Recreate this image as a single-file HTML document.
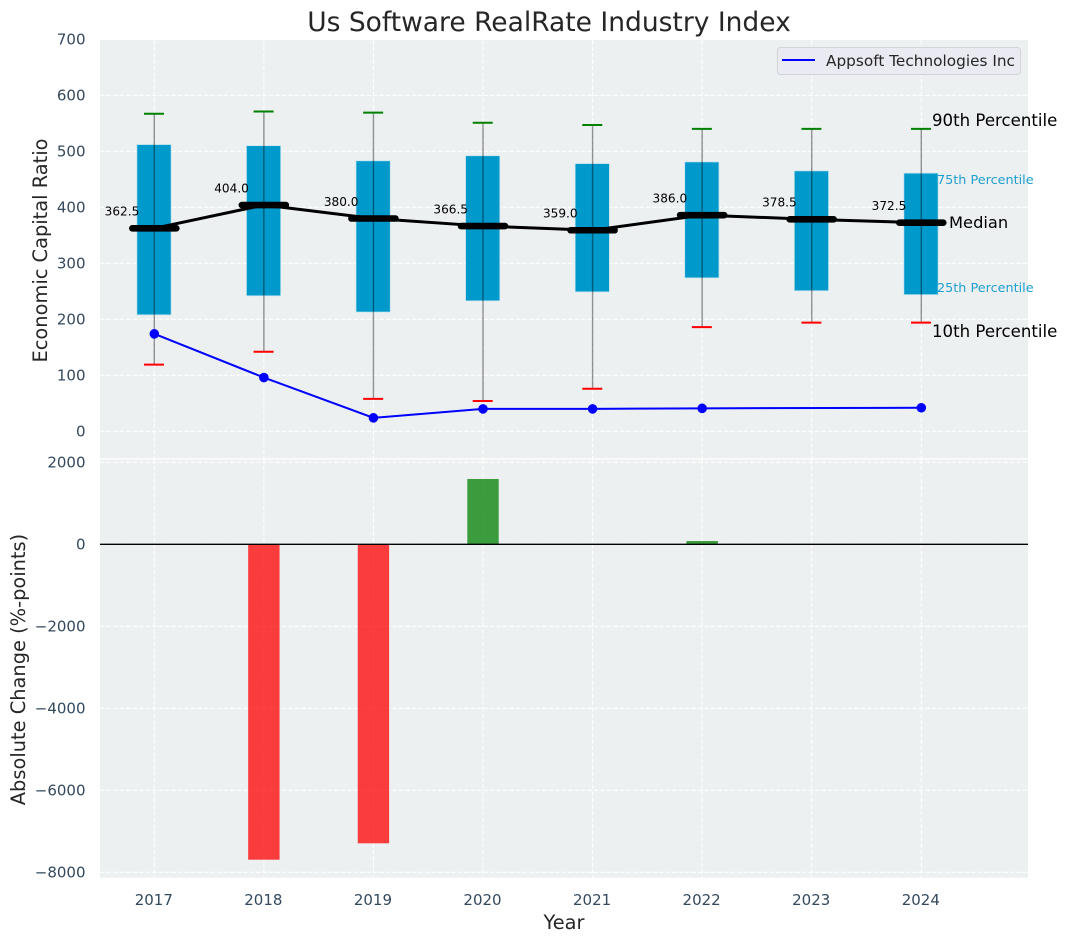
<!DOCTYPE html>
<html>
<head>
<meta charset="utf-8">
<title>Us Software RealRate Industry Index</title>
<style>
html,body{margin:0;padding:0;background:#fff;}
svg{display:block;font-family:"DejaVu Sans","Liberation Sans",sans-serif;}
</style>
</head>
<body>
<svg id="chart" width="1067" height="942" viewBox="0 0 1067 942" xmlns="http://www.w3.org/2000/svg">
  <rect x="100" y="40" width="928" height="418.3" fill="#ecf0f1"/>
  <rect x="100" y="459.7" width="928" height="418" fill="#ecf0f1"/>
  <g id="grid"></g>
  <g id="bars"></g>
  <g id="boxes"></g>
  <g id="series"></g>
  <g id="medians"></g>
  <g id="ticks" font-size="15" fill="#34495e"></g>
  <text x="549" y="31" text-anchor="middle" font-size="26.5" fill="#262626">Us Software RealRate Industry Index</text>
  <text transform="translate(47,250.5) rotate(-90)" text-anchor="middle" font-size="19.4" fill="#262626">Economic Capital Ratio</text>
  <text transform="translate(25,669.5) rotate(-90)" text-anchor="middle" font-size="19.4" fill="#262626">Absolute Change (%-points)</text>
  <text x="564" y="929" text-anchor="middle" font-size="19.4" fill="#262626">Year</text>
  <g>
    <text x="932" y="126" font-size="16.6" fill="#000">90th Percentile</text>
    <text x="937" y="184" font-size="12.8" fill="#1f9fd0">75th Percentile</text>
    <text x="949" y="228" font-size="16.3" fill="#000">Median</text>
    <text x="937" y="292" font-size="12.8" fill="#1f9fd0">25th Percentile</text>
    <text x="932" y="337" font-size="16.6" fill="#000">10th Percentile</text>
  </g>
  <g>
    <rect x="777.5" y="47.5" width="243" height="27" rx="3" fill="#eaeaf2" stroke="#d2d3d8" stroke-width="1"/>
    <line x1="782" y1="60" x2="815" y2="60" stroke="#0000ff" stroke-width="2"/>
    <text x="826" y="66" font-size="15.3" fill="#262626">Appsoft Technologies Inc</text>
  </g>
</svg>
<script>
const years = [2017, 2018, 2019, 2020, 2021, 2022, 2023, 2024];
const p90 = [567, 571, 569, 551, 547, 540, 540, 540];
const p75 = [512, 510, 483, 492, 478, 481, 465, 461];
const medianValues = [362.5, 404.0, 380.0, 366.5, 359.0, 386.0, 378.5, 372.5];
const p25 = [208, 242, 213, 233, 249, 274, 251, 244];
const p10 = [119, 142, 58, 54, 76, 186, 194, 194];
const companyYears = [2017, 2018, 2019, 2020, 2021, 2022, 2024];
const companyValues = [174, 96, 24, 40, 40, 41, 42];
const changeValues = [0, -7693, -7293, 1593, 0, 80, 0, 0];
const upperTicks = [0, 100, 200, 300, 400, 500, 600, 700];
const lowerTicks = [2000, 0, -2000, -4000, -6000, -8000];

const NS = 'http://www.w3.org/2000/svg';
const xScale = function (year) { return 154.3 + (year - 2017) * 109.57; };
const yUpper = function (v) { return 431.3 - v * 0.56; };
const yLower = function (v) { return 544.3 - v * 0.041; };

function make(parent, tag, attrs, text) {
  const el = document.createElementNS(NS, tag);
  for (const k in attrs) el.setAttribute(k, attrs[k]);
  if (text !== undefined) el.textContent = text;
  parent.appendChild(el);
  return el;
}
const gGrid = document.getElementById('grid');
const gBars = document.getElementById('bars');
const gBoxes = document.getElementById('boxes');
const gSeries = document.getElementById('series');
const gMedians = document.getElementById('medians');
const gTicks = document.getElementById('ticks');
const gridStyle = { stroke: '#ffffff', 'stroke-width': 1.1, 'stroke-dasharray': '4.5 2', 'stroke-opacity': 0.95 };

years.forEach(function (yr) {
  const x = xScale(yr);
  const a = make(gGrid, 'line', Object.assign({ x1: x, x2: x, y1: 40, y2: 458.3 }, gridStyle));
  
  
  const b = make(gGrid, 'line', Object.assign({ x1: x, x2: x, y1: 459.7, y2: 877.7 }, gridStyle));
  
  
  const t = make(gTicks, 'text', { x: x - 0.5, y: 905, 'text-anchor': 'middle' }, String(yr));
  
  
});

upperTicks.forEach(function (v) {
  const y = yUpper(v);
  if (v < 700) {
    const l = make(gGrid, 'line', Object.assign({ x1: 100, x2: 1028, y1: y, y2: y }, gridStyle));
    
    
  }
  const t = make(gTicks, 'text', { x: 85.5, y: y + 5.3, 'text-anchor': 'end' }, String(v));
  
  
});

lowerTicks.forEach(function (v) {
  const y = yLower(v);
  const l = make(gGrid, 'line', Object.assign({ x1: 100, x2: 1028, y1: y, y2: y }, gridStyle));
  
  
  const t = make(gTicks, 'text', { x: 85.5, y: y + 5.3, 'text-anchor': 'end' }, String(v).replace('-', '\u2212'));
  
  
});

changeValues.forEach(function (v, i) {
  if (v === 0) return;
  const cx = xScale(years[i]);
  const top = yLower(Math.max(v, 0));
  const h = Math.abs(yLower(v) - yLower(0));
  const r = make(gBars, 'rect', {
    x: cx - 15.7, y: top, width: 31.4, height: h,
    fill: v < 0 ? '#ff0000' : '#008000', 'fill-opacity': 0.75
  });
  
  
});

const zero = make(gBars, 'line', { x1: 100, x2: 1028, y1: yLower(0), y2: yLower(0), stroke: '#000', 'stroke-width': 1.4 });



years.forEach(function (yr, i) {
  const x = xScale(yr);
  const box = make(gBoxes, 'rect', {
    x: x - 17.4, y: yUpper(p75[i]), width: 34.2, height: yUpper(p25[i]) - yUpper(p75[i]),
    fill: '#0099cc', stroke: '#bfe3ee', 'stroke-width': 0.7
  });
  
  
  const w = make(gBoxes, 'line', {
    x1: x, x2: x, y1: yUpper(p90[i]), y2: yUpper(p10[i]),
    stroke: '#000', 'stroke-opacity': 0.42, 'stroke-width': 1.4
  });
  
  
  const hi = make(gBoxes, 'line', {
    x1: x - 10.3, x2: x + 9.7, y1: yUpper(p90[i]), y2: yUpper(p90[i]), stroke: '#008000', 'stroke-width': 2
  });
  
  
  const lo = make(gBoxes, 'line', {
    x1: x - 10.3, x2: x + 9.7, y1: yUpper(p10[i]), y2: yUpper(p10[i]), stroke: '#ff0000', 'stroke-width': 2
  });
  
  
});

const companyLine = make(gSeries, 'polyline', {
  points: companyYears.map(function (yr, i) { return xScale(yr) + ',' + yUpper(companyValues[i]); }).join(' '),
  fill: 'none', stroke: '#0000ff', 'stroke-width': 2
});


companyYears.forEach(function (yr, i) {
  const c = make(gSeries, 'circle', { cx: xScale(yr), cy: yUpper(companyValues[i]), r: 4.8, fill: '#0000ff' });
  
  
});

const medianLine = make(gMedians, 'polyline', {
  points: years.map(function (yr, i) { return xScale(yr) + ',' + yUpper(medianValues[i]); }).join(' '),
  fill: 'none', stroke: '#000', 'stroke-width': 3
});


years.forEach(function (yr, i) {
  const x = xScale(yr);
  const y = yUpper(medianValues[i]);
  const m = make(gMedians, 'line', {
    x1: x - 22, x2: x + 22, y1: y, y2: y,
    stroke: '#000', 'stroke-width': 6.6, 'stroke-linecap': 'round'
  });
  
  
  const t = make(gMedians, 'text', {
    x: x - 15, y: y - 12.6, 'text-anchor': 'end', 'font-size': 12.1, fill: '#000'
  }, medianValues[i].toFixed(1));
  
  
});
</script>
</body>
</html>
